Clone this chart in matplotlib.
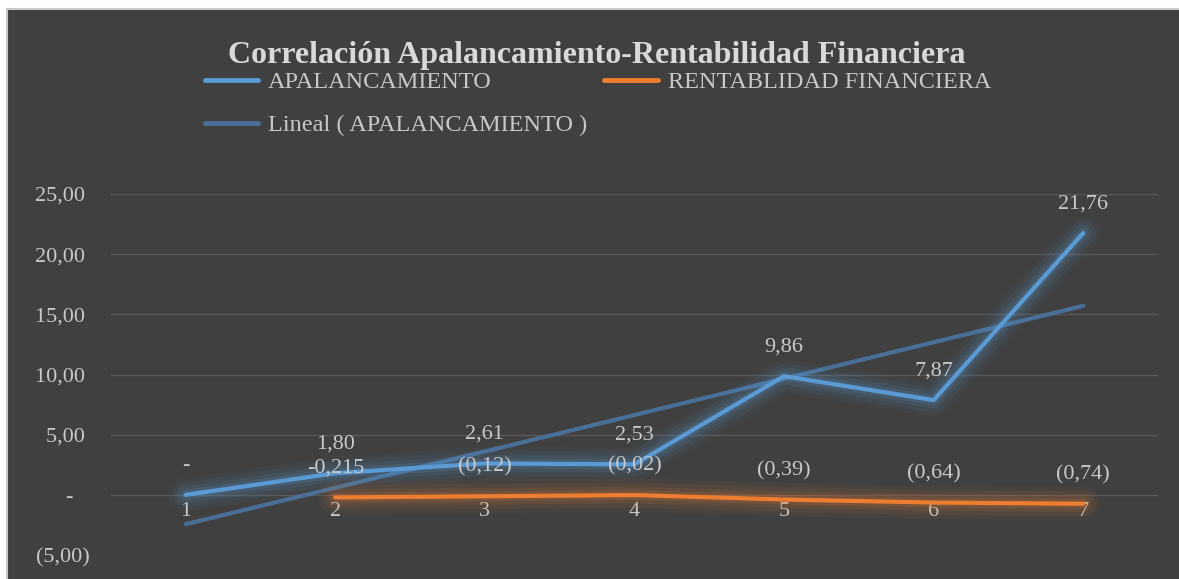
import numpy as np
import matplotlib.pyplot as plt
import matplotlib.patches as patches
import matplotlib.patheffects as pe

periods = [1, 2, 3, 4, 5, 6, 7]
apalancamiento = [0.0, 1.80, 2.61, 2.53, 9.86, 7.87, 21.76]
rentabilidad = [np.nan, -0.215, -0.12, -0.02, -0.39, -0.64, -0.74]
apal_labels = ['-', '1,80', '2,61', '2,53', '9,86', '7,87', '21,76']
rent_labels = ['', '-0,215', '(0,12)', '(0,02)', '(0,39)', '(0,64)', '(0,74)']
yticks = [-5, 0, 5, 10, 15, 20, 25]
ytick_labels = ['(5,00)', '-   ', '5,00 ', '10,00 ', '15,00 ', '20,00 ', '25,00 ']

bg = '#404040'
txt = '#c8c8c8'
blue = '#5b9bd5'
orange = '#ed7d31'
trend_c = '#4a6f96'
serif = ['Liberation Serif', 'DejaVu Serif']

plt.rcParams['font.family'] = serif

fig = plt.figure(figsize=(11.79, 5.79), dpi=100)
fig.patch.set_facecolor('white')
fig.patches.append(patches.Rectangle((7 / 1179, -0.01), 1, 1.01 - 9 / 579,
                                     transform=fig.transFigure, facecolor=bg,
                                     edgecolor='#c8c8c8', linewidth=1.5, zorder=-5))

ax = fig.add_axes([111 / 1179, 24 / 579, 1047 / 1179, 361 / 579])
ax.set_facecolor('none')
ax.set_xlim(0.5, 7.5)
ax.set_ylim(-5, 25)

# trend line (linear fit of APALANCAMIENTO)
coef = np.polyfit(periods, apalancamiento, 1)
trend = np.polyval(coef, periods)


def glow(color):
    return [pe.Stroke(linewidth=24, foreground=color, alpha=0.05),
            pe.Stroke(linewidth=18, foreground=color, alpha=0.07),
            pe.Stroke(linewidth=12, foreground=color, alpha=0.10),
            pe.Stroke(linewidth=7, foreground=color, alpha=0.15),
            pe.Normal()]


ax.plot(periods, trend, color=trend_c, lw=3, solid_capstyle='round', zorder=3,
        label='Lineal ( APALANCAMIENTO )')
ax.plot(periods, apalancamiento, color=blue, lw=3, solid_capstyle='round', zorder=4,
        path_effects=glow(blue), label='APALANCAMIENTO')
ax.plot(periods, rentabilidad, color=orange, lw=3, solid_capstyle='round', zorder=4,
        path_effects=glow(orange), label='RENTABLIDAD FINANCIERA')

for x, y, s in zip(periods, apalancamiento, apal_labels):
    ax.annotate(s, (x, y), xytext=(0, 21), textcoords='offset points',
                ha='center', va='center', color=txt, fontsize=16, zorder=6)
for x, y, s in zip(periods, rentabilidad, rent_labels):
    if s:
        ax.annotate(s, (x, y), xytext=(0, 21), textcoords='offset points',
                    ha='center', va='center', color=txt, fontsize=16, zorder=6)

ax.set_yticks(yticks)
ax.set_yticklabels(ytick_labels)
ax.set_xticks(periods)
ax.set_xticklabels([str(p) for p in periods])
ax.tick_params(axis='y', length=0, pad=15, labelsize=16, labelcolor=txt)
ax.tick_params(axis='x', length=0, pad=5, labelsize=16, labelcolor=txt)
ax.spines['bottom'].set_position(('data', 0))
for sp in ax.spines.values():
    sp.set_visible(False)
ax.grid(axis='y', color='#575757', lw=1)
ax.set_axisbelow(True)
ax.get_ygridlines()[0].set_visible(False)

fig.text(0.506, 1 - 55 / 579, 'Correlación Apalancamiento-Rentabilidad Financiera',
         ha='center', va='center', color='#d9d9d9', fontsize=23, fontweight='bold')

h, l = ax.get_legend_handles_labels()
order = [1, 0, 2]
leg = fig.legend([h[i] for i in order], [l[i] for i in order], ncol=2,
                 loc='upper left', bbox_to_anchor=(205 / 1179, 1 - 71 / 579),
                 frameon=False, fontsize=17.5, labelcolor=txt, handlelength=2.2,
                 handletextpad=0.4, labelspacing=0.88, columnspacing=0.7,
                 borderpad=0, borderaxespad=0)
for line in leg.get_lines():
    line.set_linewidth(3.5)
    line.set_path_effects([])

fig.savefig('out.png', dpi=100, facecolor=fig.get_facecolor())
